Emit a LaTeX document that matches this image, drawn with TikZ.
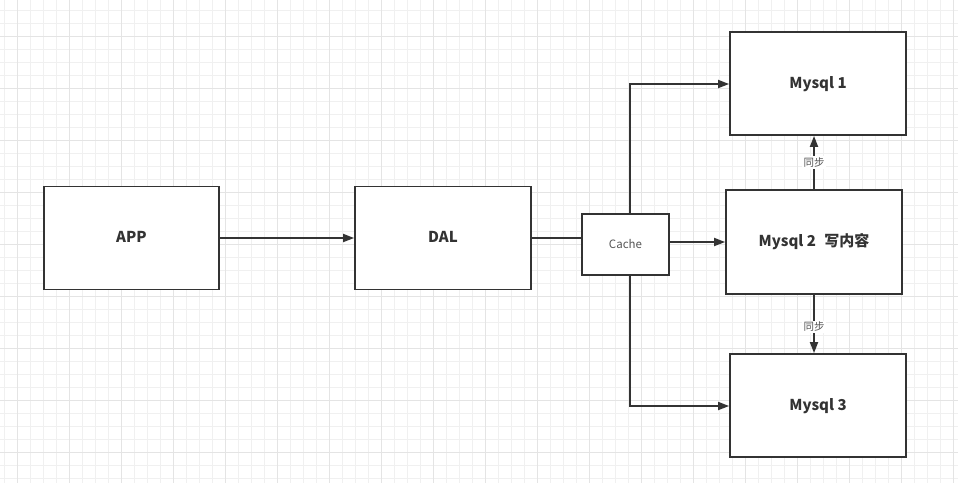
\documentclass[tikz,border=0pt]{standalone}
\usepackage{fontspec}
\setmainfont{Noto Sans CJK SC}
\usetikzlibrary{arrows.meta}
\definecolor{lineC}{HTML}{333333}
\definecolor{gridminor}{HTML}{F0F0F0}
\definecolor{gridmajor}{HTML}{E4E4E4}
\definecolor{txtgray}{HTML}{555555}
\tikzset{
  box/.style={draw=lineC, line width=1.8pt, fill=white, inner sep=0pt, font=\fontsize{15}{18}\selectfont\bfseries, text=lineC, text height=9pt, text depth=0pt},
  conn/.style={draw=lineC, line width=1.8pt},
  arr/.style={conn, -{Triangle[length=11pt,width=8pt]}},
  synclab/.style={fill=white, inner sep=1.5pt, font=\fontsize{10.5}{12}\selectfont, text=txtgray},
}
\begin{document}
\begin{tikzpicture}[x=1pt,y=-1pt]
\useasboundingbox (0,0) rectangle (958,483);
\fill[white] (0,0) rectangle (958,483);
% grid
\foreach \i in {0,...,73} {\draw[gridminor, line width=1pt] ({4.5+13*\i},0) -- ({4.5+13*\i},483);}
\foreach \i in {0,...,37} {\draw[gridminor, line width=1pt] (0,{-2.2+13*\i}) -- (958,{-2.2+13*\i});}
\foreach \i in {0,...,18} {\draw[gridmajor, line width=1pt] ({17.5+52*\i},0) -- ({17.5+52*\i},483);}
\foreach \i in {0,...,9} {\draw[gridmajor, line width=1pt] (0,{36.8+52*\i}) -- (958,{36.8+52*\i});}
% boxes
\node[box, minimum width=175pt, minimum height=103pt] (app) at (131.5,238) {APP};
\node[box, minimum width=176pt, minimum height=103pt] (dal) at (443,238) {DAL};
\node[box, minimum width=87pt, minimum height=61pt, font=\fontsize{11.5}{13}\selectfont, text=txtgray, text height=7pt] (cache) at (625.5,244.5) {Cache};
\node[box, minimum width=176pt, minimum height=103pt] (m1) at (818,83.5) {Mysql 1};
\node[box, minimum width=176pt, minimum height=104pt] (m2) at (814,242) {Mysql 2\hspace{0.55em}写内容};
\node[box, minimum width=176pt, minimum height=103pt] (m3) at (818,405.5) {Mysql 3};
% connectors
\draw[arr] (app.east) -- (dal.west);
\draw[conn] (dal.east |- 0,238) -- (cache.west |- 0,238);
\draw[arr] (cache.east |- 0,242) -- (m2.west |- 0,242);
\coordinate (ct) at (630,84);
\coordinate (cb) at (630,406);
\draw[arr] (cache.north -| ct) -- (ct) -- (m1.west |- ct);
\draw[arr] (cache.south -| cb) -- (cb) -- (m3.west |- cb);
\draw[arr] (m2.north -| 814,0) -- node[synclab, pos=0.5] {同步} (m1.south -| 814,0);
\draw[arr] (m2.south -| 814,0) -- node[synclab, pos=0.55] {同步} (m3.north -| 814,0);
\end{tikzpicture}
\end{document}
